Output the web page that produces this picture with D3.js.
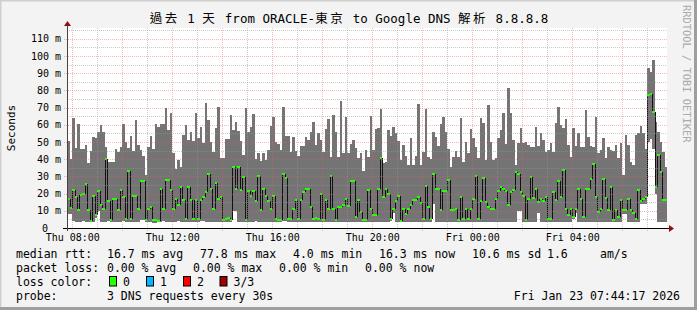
<!DOCTYPE html>
<html>
<head>
<meta charset="utf-8">
<script src="https://cdn.jsdelivr.net/npm/d3@7"></script>
<style>
  body { margin: 0; background: #f3f3f3; }
  svg text { font-family: "DejaVu Sans Mono", "Noto Sans CJK TC", monospace; fill: #000; }
</style>
</head>
<body>
<div id="chart"></div>
<script>
// 240 consolidated rows of 6 min (ms)
const maxRtt = [
  50.8, 40.1, 63.8, 46.3, 60.5, 46, 46, 48.3, 37.6, 45, 52.7, 52.1, 56, 59.9, 55.6, 47.3, 38.6, 38.6, 38.6, 46,
  44.4, 47, 60.5, 50.2, 46.3, 53.7, 45, 62.8, 48.3, 45.4, 41.9, 30.8, 46.9, 53.7, 45.9, 60.5, 58.9, 60.5, 60.5, 69.6,
  57, 66.7, 43.8, 34.3, 39.5, 35.7, 54.1, 59.9, 51.2, 55.6, 50.8, 67.1, 52.1, 58.9, 49.2, 72.5, 62.8, 50.2, 44.4, 57.9,
  70.2, 40.5, 40.5, 51.8, 51.8, 65.7, 57, 61.8, 56.4, 50.8, 42.5, 69.6, 56, 58.9, 66.3, 39.9, 43.4, 39.2, 43.4, 39.5,
  45.4, 59.3, 64.7, 50.2, 48.8, 45.4, 70.6, 53.7, 53.7, 44, 52.7, 45, 42.1, 47.9, 47.9, 53.1, 51.2, 56, 61.4, 48.3,
  55, 51.2, 44.4, 57.6, 63.4, 41.5, 65.7, 56, 41.1, 74, 43.4, 64.7, 43.4, 48.8, 51.2, 46.3, 40.5, 43.4, 33.3, 45.4,
  41.5, 65.3, 45.4, 57.6, 58, 69.2, 37.6, 38.6, 57, 53.5, 58.5, 55, 50.8, 39.5, 48.3, 41.9, 36.6, 52.1, 36.6, 41.9,
  72.1, 36.6, 44.4, 69.2, 41.5, 40.1, 56, 52.7, 47.7, 60.5, 64.7, 56, 45.9, 35.7, 41.1, 45, 41.1, 63.8, 38.6, 50.2,
  43.8, 57.6, 52.1, 47.3, 40.5, 63.8, 61.3, 39.5, 71.5, 50.2, 39.5, 40.5, 52.1, 57, 66.7, 48.8, 81.6, 66.7, 51.2, 36.6,
  49.2, 57.9, 49.2, 50.2, 48.3, 47.3, 47.3, 58.9, 47.7, 55.4, 51.2, 44.4, 45.4, 49.6, 44.4, 61.3, 70.6, 59.9, 57.9, 63.2,
  48.3, 41.1, 57.9, 47.7, 55, 47.3, 47.3, 68.6, 52.7, 47.9, 47.3, 64.4, 43.4, 45.4, 52.1, 40.5, 47.3, 45.4, 45, 48.3,
  40.5, 49.6, 30.8, 54.1, 48.3, 38.6, 36.6, 54.1, 55, 59.3, 55, 45.7, 92.8, 90.9, 97.7, 61.8, 56, 50.2, 44.4, 35.6
];
const medianRtt = [
  17, 11.6, 22, 18, 10.5, 19.2, 20, 25.6, 10.5, 4, 18.6, 7.6, 21.5, 13.4, 11.2, 40, 15.7, 4.6, 17, 17,
  10.5, 22, 18, 5, 33, 5, 18.6, 18.6, 11, 27.3, 27.3, 4.6, 11, 12, 4.6, 4.6, 4, 22.7, 11, 28,
  28, 22, 11, 17, 13.4, 24, 16, 5, 24, 16.3, 5, 16.3, 5, 16.3, 18, 21, 31.4, 22.7, 11, 26,
  17, 18, 4.6, 5, 6, 4.6, 35.7, 22.7, 35.7, 22, 29.5, 4.6, 21.7, 18.6, 21.7, 15.5, 30, 10.5, 22.7, 18.6,
  15.7, 11, 18.6, 5, 4.6, 4.6, 31.5, 29, 5, 5, 11, 16, 5, 16, 21, 22.7, 22.7, 12.4, 5, 6,
  5, 20, 4.6, 16, 11, 30, 11, 4.6, 12, 12, 13.4, 17, 12.8, 27.3, 27.3, 6.6, 16.3, 9.5, 4.6, 4.6,
  22, 11, 7.6, 7.6, 22.7, 40.6, 18, 22.7, 19.8, 5, 11, 15.7, 18.6, 4, 11, 8, 11, 13.4, 16.3, 16.3,
  18, 14.5, 5, 24.4, 12, 5, 31.4, 22.7, 22.7, 10.5, 21.7, 21.7, 28, 10.5, 10.5, 11, 4.6, 18, 5, 11,
  5, 11, 17, 30, 5, 15.5, 29, 15, 12, 11, 11, 17, 21.7, 24, 22.7, 21.7, 13.4, 21, 22, 32.4,
  31.4, 21, 18.6, 4.6, 17, 29.5, 17.4, 22.7, 15, 17, 15.5, 18, 5, 5, 21, 16.3, 27.3, 18, 33.7, 11,
  7.6, 11, 6.6, 11, 22.7, 17, 6.6, 22.7, 22.7, 28.4, 37, 18, 9.5, 11, 28.4, 17.4, 10.5, 24, 4.6, 10.5,
  6.6, 16.3, 10.5, 10.5, 17, 10.5, 8.6, 5, 22, 15.7, 17, 18, 77.5, 77.8, 67.6, 24, 42.4, 32.7, 16.3, 16.3
];
const minRtt = [
  8, 8, 4, 3.5, 3.5, 3.5, 4, 3.5, 3.5, 3.5, 3.5, 6, 10, 3.5, 3.5, 3.5, 4, 3.5, 3.5, 3.5,
  3.5, 3.5, 4, 3.5, 3.5, 3.5, 3.5, 3.5, 3.5, 4.5, 4.5, 3.5, 3.5, 3.5, 3, 3, 3.5, 3.5, 4, 3.5,
  3.5, 3.5, 3.5, 3.5, 4, 3.5, 3.5, 3.5, 3.5, 3.5, 3.5, 3.5, 3.5, 4, 4, 3.5, 3.5, 3.5, 3.5, 3.5,
  3.5, 3.5, 3.5, 3.5, 3.5, 3.5, 10, 10, 3.5, 3.5, 3.5, 3.5, 3.5, 3.5, 3.5, 4, 3.5, 3.5, 3.5, 3.5,
  3.5, 3.5, 3.5, 3.5, 3.5, 3.5, 4, 4, 3.5, 3.5, 3.5, 3.5, 3.5, 3.5, 3.5, 3.5, 3.5, 3.5, 3.5, 3.5,
  3.5, 3.5, 3.5, 3.5, 3.5, 3.5, 3.5, 3.5, 3.5, 3.5, 3.5, 3.5, 3.5, 3.5, 3.5, 3.5, 3.5, 3.5, 3.5, 3.5,
  3.5, 3.5, 3.5, 3.5, 3.5, 3.5, 3.5, 3.5, 3.5, 4, 9, 3.5, 3.5, 3.5, 3.5, 3.5, 3.5, 3.5, 3.5, 3.5,
  3.5, 3.5, 3.5, 3.5, 3.5, 3.5, 14, 3.5, 3.5, 3.5, 3.5, 3.5, 3.5, 3.5, 3.5, 3.5, 3.5, 3.5, 3.5, 3.5,
  3.5, 3.5, 3.5, 3.5, 3.5, 3.5, 3.5, 3.5, 3.5, 3.5, 3.5, 3.5, 3.5, 3.5, 3.5, 3.5, 3.5, 3.5, 3.5, 3.5,
  10, 10, 3.5, 3.5, 3.5, 3.5, 3.5, 3.5, 9, 3.5, 3.5, 3.5, 3.5, 3.5, 3.5, 3.5, 3.5, 3.5, 3.5, 3.5,
  3.5, 3.5, 5, 9, 3.5, 3.5, 3.5, 3.5, 3.5, 3.5, 3.5, 3.5, 3.5, 3.5, 3.5, 3.5, 3.5, 3.5, 3.5, 3.5,
  3.5, 3.5, 8, 8, 3.5, 3.5, 3.5, 3.5, 3.5, 14, 14, 14, 50, 52, 46, 20, 3.5, 3.5, 3.5, 3.5
];

const yMajor = [10, 20, 30, 40, 50, 60, 70, 80, 90, 100, 110];
const yMinor = [5, 15, 25, 35, 45, 55, 65, 75, 85, 95, 105, 115];
const yLabels = [0, 10, 20, 30, 40, 50, 60, 70, 80, 90, 100, 110];

const title = "過去 1 天 from ORACLE-東京 to Google DNS 解析 8.8.8.8";
const legendRows = [
  ["median rtt:", "16.7 ms avg", "77.8 ms max", "4.0 ms min", "16.3 ms now", "10.6 ms sd", "1.6", "am/s"],
  ["packet loss:", "0.00 % avg", "0.00 % max", "0.00 % min", "0.00 % now"],
  ["probe:", "3 DNS requests every 30s"]
];
const lossLabels = ["0", "1", "2", "3/3"];
const lossColors = ["#26ff00", "#00b8ff", "#ff0000", "#a00000"];
const stampText = "Fri Jan 23 07:44:17 2026";

const start = new Date(2026, 0, 22, 7, 48, 40);
const end = new Date(+start + 24 * 3600e3);
const stepMs = 360e3;

const W = 697, H = 310;
const plot = { left: 67, right: 667, top: 28, bottom: 228 };

const svg = d3.select("#chart").append("svg")
  .attr("width", W).attr("height", H);

// frame
svg.append("rect").attr("width", W).attr("height", H).attr("fill", "#f3f3f3");
svg.append("path").attr("d", `M0,${H} V0 H${W}`).attr("stroke", "#cfcfcf").attr("stroke-width", 3).attr("fill", "none");
svg.append("path").attr("d", `M0,${H - 1.5} H${W - 1.5} V0`).attr("stroke", "#9e9e9e").attr("stroke-width", 3).attr("fill", "none");

svg.append("rect")
  .attr("x", plot.left).attr("y", plot.top)
  .attr("width", plot.right - plot.left).attr("height", plot.bottom - plot.top)
  .attr("fill", "#fff");

const x = d3.scaleTime().domain([start, end]).range([plot.left, plot.right]);
const y = d3.scaleLinear().domain([0, 116.3]).range([plot.bottom, plot.top]);

const rows = maxRtt.map((mx, i) => ({
  t0: new Date(+start + i * stepMs),
  t1: new Date(+start + (i + 1) * stepMs),
  min: minRtt[i], med: medianRtt[i], max: mx
}));

// smoke
svg.append("g").attr("shape-rendering", "crispEdges")
  .selectAll("rect").data(rows).join("rect")
  .attr("x", d => x(d.t0))
  .attr("width", d => x(d.t1) - x(d.t0) + 0.3)
  .attr("y", d => y(d.max))
  .attr("height", d => y(d.min) - y(d.max))
  .attr("fill", "#747474");

// median steps: black risers, green treads
svg.append("g").attr("shape-rendering", "crispEdges")
  .selectAll("line").data(rows.slice(1)).join("line")
  .attr("x1", d => Math.round(x(d.t0)) + 0.5)
  .attr("x2", d => Math.round(x(d.t0)) + 0.5)
  .attr("y1", (d, i) => y(rows[i].med))
  .attr("y2", d => y(d.med))
  .attr("stroke", "#111").attr("stroke-width", 1);

svg.append("g").attr("shape-rendering", "crispEdges")
  .selectAll("rect").data(rows).join("rect")
  .attr("x", d => x(d.t0))
  .attr("width", d => x(d.t1) - x(d.t0))
  .attr("y", d => y(d.med) - 1)
  .attr("height", 2)
  .attr("fill", lossColors[0]);

// grid on top
const minorCol = "rgba(150,150,150,0.5)", majorCol = "rgba(235,90,90,0.42)";
const grid = svg.append("g").attr("shape-rendering", "crispEdges");
grid.selectAll(".hmin").data(yMinor).join("line")
  .attr("x1", plot.left).attr("x2", plot.right)
  .attr("y1", d => Math.round(y(d)) + 0.5).attr("y2", d => Math.round(y(d)) + 0.5)
  .attr("stroke", minorCol).attr("stroke-dasharray", "1,1");
grid.selectAll(".hmaj").data(yMajor).join("line")
  .attr("x1", plot.left - 3).attr("x2", plot.right)
  .attr("y1", d => Math.round(y(d)) + 0.5).attr("y2", d => Math.round(y(d)) + 0.5)
  .attr("stroke", majorCol).attr("stroke-dasharray", "1,1");

const hours = x.ticks(d3.timeHour.every(1));
grid.selectAll(".v").data(hours).join("line")
  .attr("x1", d => Math.round(x(d)) + 0.5).attr("x2", d => Math.round(x(d)) + 0.5)
  .attr("y1", plot.top).attr("y2", plot.bottom + 3)
  .attr("stroke", d => d.getHours() % 2 === 0 ? majorCol : minorCol)
  .attr("stroke-dasharray", "1,1");

// axes
svg.append("line").attr("x1", plot.left - 4).attr("x2", plot.right + 3)
  .attr("y1", plot.bottom + 0.5).attr("y2", plot.bottom + 0.5)
  .attr("stroke", "#000").attr("shape-rendering", "crispEdges");
svg.append("line").attr("x1", plot.left + 0.5).attr("x2", plot.left + 0.5)
  .attr("y1", plot.bottom + 3).attr("y2", 23)
  .attr("stroke", "#444").attr("shape-rendering", "crispEdges");
svg.append("path").attr("d", `M${plot.left + 0.5},21 l-3.5,5 h7 z`).attr("fill", "#8b1010");
svg.append("path").attr("d", `M${plot.right + 7},${plot.bottom + 0.5} l-5,-3.5 v7 z`).attr("fill", "#8b1010");

svg.append("g").selectAll("text").data(yLabels).join("text")
  .attr("x", d => d === 0 ? 48 : 61)
  .attr("y", d => y(d) + 3.5)
  .attr("text-anchor", "end")
  .style("font-size", "10px")
  .text(d => d === 0 ? "0" : d + " m");

const fmt = d3.timeFormat("%a %H:%M");
svg.append("g").selectAll("text").data(x.ticks(d3.timeHour.every(4))).join("text")
  .attr("x", d => x(d) + 1)
  .attr("y", 241)
  .attr("text-anchor", "middle")
  .style("font-size", "10px")
  .text(d => fmt(d));

// title: CJK glyphs take two monospace cells
const titleText = svg.append("text").attr("x", 349).attr("y", 22.5).attr("text-anchor", "middle")
  .style("font-size", "12.5px");
titleText.selectAll("tspan").data(title.match(/[\u3400-\u9fff]+|[^\u3400-\u9fff]+/g)).join("tspan")
  .style("letter-spacing", d => /[\u3400-\u9fff]/.test(d) ? "2.5px" : null)
  .text(d => d);

svg.append("text").attr("transform", "translate(15,128) rotate(-90)").attr("text-anchor", "middle")
  .style("font-size", "11px").text("Seconds");
svg.append("text").attr("transform", "translate(683,5) rotate(90)")
  .style("font-size", "10.4px").style("fill", "#aaa").text("RRDTOOL / TOBI OETIKER");

// legend
const lx = [
  [16, 107, 200, 293, 379, 472, 547, 600],
  [16, 107, 193, 279, 365],
  [16, 107]
];
const ly = [258, 271.8, 299.5];
const legend = svg.append("g").style("font-size", "11.5px");
legendRows.forEach((r, j) => {
  legend.selectAll(null).data(r).join("text")
    .attr("x", (d, i) => lx[j][i]).attr("y", ly[j]).text(d => d);
});
legend.append("text").attr("x", 16).attr("y", 285.7).text("loss color:");
const boxX = [109, 146, 183, 219.5];
legend.selectAll(null).data(lossLabels).join("rect")
  .attr("x", (d, i) => boxX[i] + 0.5).attr("y", 276.5)
  .attr("width", 7).attr("height", 9.5)
  .attr("fill", (d, i) => lossColors[i])
  .attr("stroke", "#000").attr("stroke-width", 1);
legend.selectAll(null).data(lossLabels).join("text")
  .attr("x", (d, i) => boxX[i] + 14).attr("y", 285.7).text(d => d);
legend.append("text").attr("x", 680).attr("y", 299.5).attr("text-anchor", "end").text(stampText);
</script>
</body>
</html>
